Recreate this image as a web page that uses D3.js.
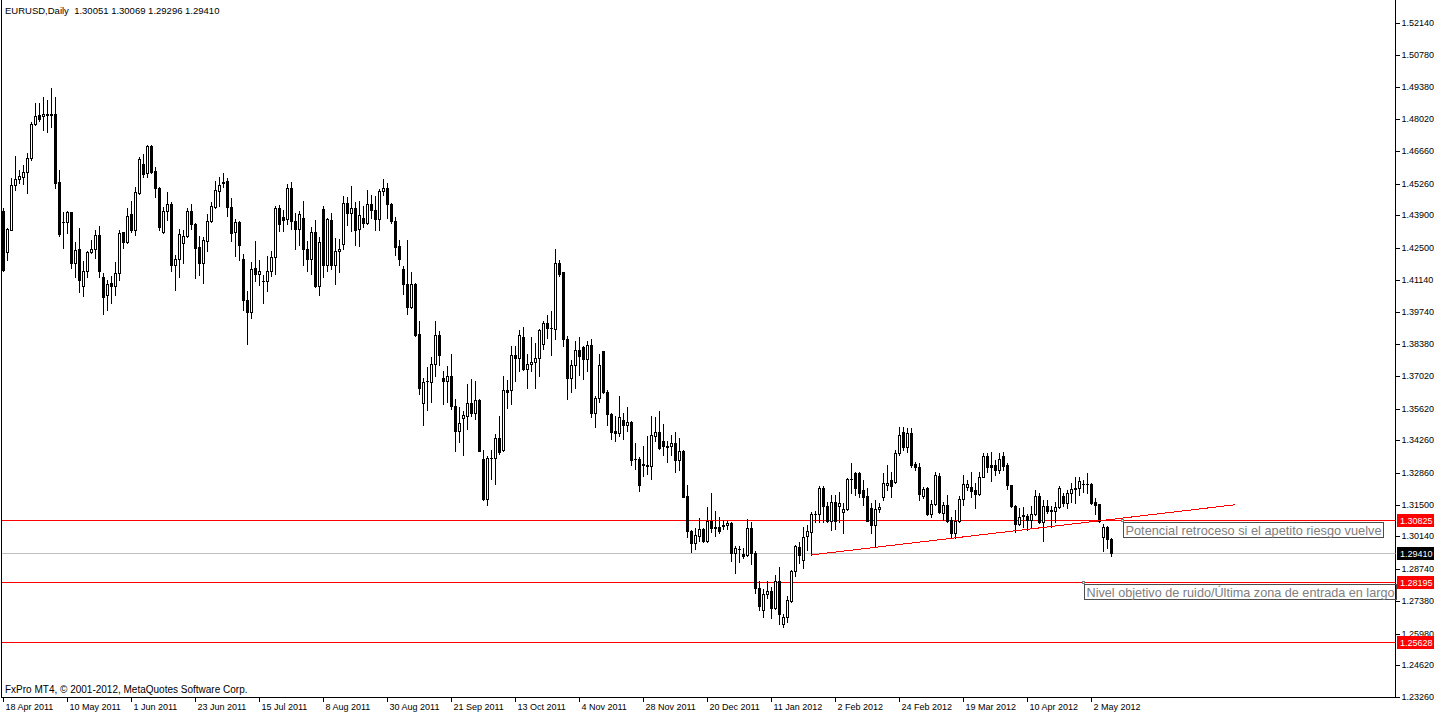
<!DOCTYPE html>
<html>
<head>
<meta charset="utf-8">
<script src="https://cdn.jsdelivr.net/npm/d3@7"></script>
<style>
  body { margin: 0; background: #fff; }
  svg { display: block; }
  text { font-family: "Liberation Sans", Arial, sans-serif; }
</style>
</head>
<body>
<script>
// EURUSD daily, 18 Apr 2011 .. 9 May 2012, prices x 10000
const opens = [14409,14232,14327,14519,14547,14556,14574,14637,14781,14820,14816,14823,14824,14823,14532,14360,14360,14403,14187,14245,
  14085,14153,14232,14245,14306,14125,14049,14099,14085,14142,14317,14277,14396,14325,14484,14610,14570,14687,14580,14506,
  14320,14409,14439,14175,14202,14273,14302,14409,14353,14256,14187,14282,14366,14427,14496,14530,14537,14425,14318,14361,
  14202,14028,13974,14164,14138,14110,14110,14150,14211,14421,14382,14374,14506,14366,14331,14378,14245,14202,14318,14089,
  14416,14175,14371,14175,14235,14267,14442,14402,14421,14331,14378,14356,14438,14414,14374,14496,14506,14438,14366,14259,
  14161,14097,13997,14097,13882,13585,13681,13675,13752,13878,13692,13682,13702,13574,13464,13521,13532,13585,13542,13598,
  13347,13175,13350,13350,13435,13385,13642,13640,13792,13777,13869,13732,13752,13761,13778,13838,13928,13907,13902,14185,
  14146,13860,13695,13748,13814,13825,13774,13834,13542,13607,13810,13632,13540,13467,13457,13511,13490,13504,13345,13347,
  13318,13321,13314,13443,13461,13424,13401,13400,13414,13340,13382,13188,13038,12985,13018,13046,12996,13082,13055,13054,
  13062,13061,13071,12942,12962,12939,12935,13049,12942,12792,12697,12766,12781,12709,12821,12638,12668,12738,12866,12970,
  12914,13017,13034,13111,13110,13222,13145,13081,13162,13145,13120,13132,13261,13287,13287,13214,13188,13137,13064,13132,
  13184,13235,13257,13248,13372,13462,13398,13458,13325,13312,13188,13222,13111,13154,13274,13115,13150,13085,13030,13081,
  13175,13227,13227,13214,13197,13270,13360,13321,13321,13300,13360,13321,13235,13145,13068,13102,13102,13085,13111,13188,
  13077,13145,13124,13124,13141,13188,13158,13201,13222,13222,13240,13240,13240,13162,13154,13013,13055,13005.1];

const highs = [14420,14335,14549,14644,14584,14606,14656,14791,14873,14873,14899,14884,14934,14896,14584,14406,14409,14406,14275,14335,
  14196,14237,14285,14327,14346,14142,14113,14130,14192,14325,14320,14423,14453,14513,14639,14653,14692,14692,14596,14510,
  14425,14492,14445,14220,14330,14327,14420,14439,14356,14302,14299,14396,14449,14535,14552,14573,14549,14464,14374,14364,
  14225,14064,14189,14281,14199,14135,14217,14238,14431,14435,14414,14525,14532,14399,14409,14452,14282,14339,14371,14296,
  14431,14378,14402,14292,14289,14474,14468,14516,14449,14452,14431,14499,14478,14474,14502,14546,14528,14442,14382,14285,
  14174,14285,14147,14100,13938,13692,13742,13782,13938,13895,13724,13745,13797,13602,13568,13550,13667,13688,13681,13602,
  13385,13357,13385,13452,13528,13700,13685,13831,13828,13897,13911,13795,13868,13842,13902,13938,13961,13978,14246,14199,
  14149,13871,13771,13852,13869,13831,13850,13861,13614,13797,13810,13642,13542,13528,13617,13542,13568,13507,13414,13354,
  13402,13445,13531,13524,13552,13495,13421,13450,13461,13435,13385,13235,13042,13052,13092,13052,13138,13202,13121,13099,
  13085,13082,13075,12971,12971,12964,13088,13074,12952,12824,12788,12821,12799,12849,12882,12681,12759,12871,12978,12991,
  13055,13064,13120,13124,13231,13231,13162,13192,13192,13205,13158,13265,13330,13291,13291,13257,13222,13158,13171,13158,
  13287,13321,13291,13385,13484,13484,13479,13479,13334,13330,13227,13227,13171,13291,13287,13162,13192,13098,13128,13188,
  13278,13257,13291,13244,13291,13372,13372,13377,13342,13372,13377,13330,13235,13150,13137,13141,13111,13145,13214,13201,
  13171,13171,13145,13162,13231,13201,13214,13244,13270,13270,13257,13287,13244,13180,13154,13068,13060,13006.9];

const lows = [14153,14199,14325,14499,14530,14523,14487,14627,14777,14796,14756,14749,14770,14506,14302,14249,14313,14166,14127,14063,
  14046,14127,14227,14206,14127,13965,13985,14013,14049,14113,14252,14273,14320,14305,14482,14552,14556,14573,14470,14325,
  14316,14370,14153,14068,14127,14187,14299,14330,14123,14135,14099,14235,14363,14420,14432,14513,14389,14282,14217,14199,
  13985,13838,13950,14110,14092,14014,14064,14128,14138,14321,14321,14352,14332,14247,14264,14178,14150,14140,14082,14049,
  14124,14150,14160,14097,14145,14247,14349,14321,14264,14257,14342,14352,14378,14325,14325,14478,14378,14356,14221,14178,
  14054,13968,13992,13871,13625,13493,13557,13588,13700,13750,13582,13592,13560,13381,13417,13361,13475,13532,13518,13378,
  13170,13147,13260,13240,13367,13378,13564,13581,13682,13721,13728,13652,13724,13652,13702,13817,13864,13792,13861,14132,
  13828,13604,13635,13652,13707,13688,13721,13524,13481,13590,13628,13493,13431,13421,13443,13431,13464,13318,13304,13210,
  13271,13282,13260,13421,13388,13364,13332,13364,13290,13300,13182,13010,12946,12959,12995,12992,12992,13032,13018,13028,
  13046,13045,12909,12859,12904,12921,12931,12896,12771,12699,12668,12752,12664,12704,12639,12628,12649,12735,12846,12901,
  12880,12957,12935,13077,13077,13077,13077,13042,13047,13077,13030,13128,13201,13192,13184,13150,13078,13030,12974,13120,
  13171,13214,13184,13244,13364,13385,13377,13312,13300,13171,13180,13107,13098,13150,13115,13085,13077,13008,13008,13077,
  13150,13214,13184,13137,13192,13268,13291,13252,13278,13287,13300,13218,13141,13034,13064,13055,13042,13055,13107,13072,
  12995,13115,13055,13077,13137,13145,13137,13162,13158,13192,13205,13201,13155,13111,13077,12953,12965,12929.6];

const closes = [14156,14330,14519,14547,14559,14574,14637,14781,14816,14801,14824,14821,14821,14530,14310,14361,14406,14187,14242,14113,
  14153,14232,14245,14306,14153,14042,14096,14085,14142,14313,14277,14389,14325,14489,14632,14567,14687,14577,14506,14342,
  14409,14439,14175,14202,14309,14302,14409,14352,14252,14185,14285,14366,14430,14499,14520,14533,14425,14314,14361,14261,
  14025,13974,14160,14140,14152,14108,14152,14211,14421,14352,14371,14506,14364,14331,14395,14245,14202,14318,14088,14275,
  14175,14374,14175,14238,14247,14442,14402,14421,14328,14392,14356,14438,14411,14374,14495,14506,14438,14364,14254,14202,
  14095,13997,14097,13878,13652,13675,13680,13752,13878,13790,13682,13702,13571,13464,13500,13535,13585,13542,13598,13382,
  13175,13350,13348,13435,13375,13641,13635,13792,13777,13878,13732,13752,13761,13778,13897,13928,13905,13905,14185,14139,
  13860,13695,13748,13814,13785,13774,13834,13542,13607,13748,13631,13538,13460,13457,13525,13490,13504,13343,13344,13235,
  13324,13314,13450,13461,13392,13400,13398,13414,13340,13382,13185,13036,12985,13021,13046,12996,13082,13049,13052,13039,
  13059,13071,12942,12964,12959,12932,13049,12942,12792,12718,12768,12781,12709,12821,12681,12668,12742,12866,12973,12935,
  13013,13038,13111,13110,13222,13145,13081,13162,13081,13158,13132,13261,13259,13222,13201,13184,13081,13064,13132,13141,
  13244,13244,13231,13372,13450,13398,13458,13321,13312,13197,13218,13111,13154,13278,13120,13150,13081,13030,13081,13175,
  13240,13240,13210,13197,13270,13360,13312,13312,13300,13347,13317,13235,13145,13068,13098,13107,13085,13111,13188,13077,
  13145,13124,13128,13141,13222,13158,13201,13218,13218,13252,13239,13239,13158,13150,13081,13055,13004,12941];

const yTicks = [1.52140,1.50780,1.49380,1.48020,1.46660,1.45260,1.43900,1.42500,1.41140,1.39740,1.38380,
  1.37020,1.35620,1.34260,1.32860,1.31500,1.30140,1.28740,1.27380,1.25980,1.24620,1.23260];

const xTickLabels = ["18 Apr 2011","10 May 2011","1 Jun 2011","23 Jun 2011","15 Jul 2011","8 Aug 2011",
  "30 Aug 2011","21 Sep 2011","13 Oct 2011","4 Nov 2011","28 Nov 2011","20 Dec 2011","11 Jan 2012",
  "2 Feb 2012","24 Feb 2012","19 Mar 2012","10 Apr 2012","2 May 2012"];

const hLevels = [1.30825, 1.28195, 1.25628];
const bid = 1.29410;
const trend = [{ bar: 202, price: 1.2935 }, { bar: 308, price: 1.3150 }];
const notes = [
  { text: "Potencial retroceso si el apetito riesgo vuelve", bar: 279.75, price: 1.30825, w: 256 },
  { text: "Nivel objetivo de ruido/Última zona de entrada en largo", bar: 269.75, price: 1.28195, w: 308 }
];

const W = 1434, H = 715;
const axisX = 1395.5, axisY = 697.5;

// trading days (weekdays) of the chart
const dates = d3.timeDay.range(new Date(2011, 3, 18), new Date(2012, 4, 10))
  .filter(d => d.getDay() % 6 !== 0);
const fmt = d3.timeFormat("%-d %b %Y");

const bars = closes.map((c, i) => ({
  i: i,
  o: opens[i] / 1e4, h: highs[i] / 1e4, l: lows[i] / 1e4, c: c / 1e4
}));

const x = d3.scaleLinear()
  .domain([0, dates.length - 1])
  .range([3.5, 3.5 + 4 * (dates.length - 1)]);

const y = d3.scaleLinear()
  .domain([1.2326, 1.5214])
  .range([697, 23]);

const ry = p => Math.round(y(p));

const svg = d3.select("body").append("svg")
  .attr("width", W)
  .attr("height", H);

svg.append("rect").attr("width", W).attr("height", H).attr("fill", "#fff");

// frame
const frame = svg.append("g").attr("stroke", "#000").attr("shape-rendering", "crispEdges");
frame.append("line").attr("x1", 1.5).attr("x2", 1.5).attr("y1", 0).attr("y2", axisY);
frame.append("line").attr("x1", axisX).attr("x2", axisX).attr("y1", 0).attr("y2", axisY);
frame.append("line").attr("x1", 1).attr("x2", axisX).attr("y1", axisY).attr("y2", axisY);

// horizontal levels
svg.append("line")
  .attr("x1", 2).attr("x2", axisX)
  .attr("y1", ry(bid) + 0.5).attr("y2", ry(bid) + 0.5)
  .attr("stroke", "#c0c0c0");

svg.selectAll(".hl")
  .data(hLevels)
  .enter().append("line")
  .attr("class", "hl")
  .attr("x1", 2).attr("x2", axisX)
  .attr("y1", d => ry(d) + 0.5).attr("y2", d => ry(d) + 0.5)
  .attr("stroke", "#ff0000");

// candles
const cg = svg.append("g").attr("shape-rendering", "crispEdges");

cg.selectAll(".wick")
  .data(bars)
  .enter().append("line")
  .attr("class", "wick")
  .attr("x1", d => x(d.i)).attr("x2", d => x(d.i))
  .attr("y1", d => ry(d.h)).attr("y2", d => ry(d.l) + 1)
  .attr("stroke", "#000");

bars.forEach(d => {
  const top = ry(Math.max(d.o, d.c));
  const bot = ry(Math.min(d.o, d.c));
  const cx = x(d.i);
  if (bot - top < 1) {
    cg.append("line")
      .attr("x1", cx - 1.5).attr("x2", cx + 1.5)
      .attr("y1", top + 0.5).attr("y2", top + 0.5)
      .attr("stroke", "#000");
  } else if (d.c > d.o && bot - top >= 2) {
    cg.append("rect")
      .attr("x", cx - 1).attr("y", top + 0.5)
      .attr("width", 2).attr("height", bot - top)
      .attr("fill", "#fff").attr("stroke", "#000");
  } else {
    cg.append("rect")
      .attr("x", cx - 1.5).attr("y", top)
      .attr("width", 3).attr("height", bot - top + 1)
      .attr("fill", "#000");
  }
});

// trend line
svg.append("line")
  .attr("x1", x(trend[0].bar)).attr("y1", y(trend[0].price))
  .attr("x2", x(trend[1].bar)).attr("y2", y(trend[1].price))
  .attr("stroke", "#ff0000")
  .attr("shape-rendering", "crispEdges");

// text objects
notes.forEach(n => {
  const ax = Math.round(x(n.bar)) + 0.5, ay = ry(n.price) + 0.5;
  svg.append("rect")
    .attr("x", ax + 1).attr("y", ay + 2)
    .attr("width", n.w + 4).attr("height", 15)
    .attr("fill", "none").attr("stroke", "#4d4d4d")
    .attr("shape-rendering", "crispEdges");
  svg.append("rect")
    .attr("x", ax - 1).attr("y", ay - 1)
    .attr("width", 2).attr("height", 2)
    .attr("fill", "#fff").attr("stroke", "#808080")
    .attr("shape-rendering", "crispEdges");
  svg.append("text")
    .attr("x", ax + 3).attr("y", ay + 14)
    .attr("font-size", 13)
    .attr("fill", "#808080")
    .attr("textLength", n.w)
    .attr("lengthAdjust", "spacingAndGlyphs")
    .text(n.text);
});

// price axis
const yAxis = svg.append("g")
  .attr("transform", "translate(" + axisX + ",0)")
  .call(d3.axisRight(y).tickValues(yTicks).tickSize(4).tickPadding(2)
    .tickFormat(d3.format(".5f")));
yAxis.select(".domain").remove();
yAxis.selectAll(".tick")
  .attr("transform", d => "translate(0," + (ry(d) + 0.5) + ")");
yAxis.selectAll(".tick line").attr("shape-rendering", "crispEdges");
yAxis.selectAll("text")
  .attr("font-family", "Liberation Sans, Arial, sans-serif")
  .attr("font-size", 9)
  .attr("fill", "#000");

// price tags
const tags = hLevels.map(p => ({ p: p, bg: "#ff0000" })).concat([{ p: bid, bg: "#000" }]);
const tg = svg.selectAll(".tag")
  .data(tags)
  .enter().append("g")
  .attr("class", "tag")
  .attr("transform", d => "translate(" + (axisX + 1.5) + "," + (ry(d.p) - 6) + ")");
tg.append("rect")
  .attr("width", 37).attr("height", 13)
  .attr("fill", d => d.bg);
tg.append("text")
  .attr("x", 3).attr("y", 10)
  .attr("font-size", 9)
  .attr("fill", "#fff")
  .text(d => d3.format(".5f")(d.p));

// time axis
const tickIdx = xTickLabels.map(s => dates.findIndex(d => fmt(d) === s));
const xAxis = svg.append("g")
  .attr("transform", "translate(0," + axisY + ")")
  .call(d3.axisBottom(x).tickValues(tickIdx).tickSize(4).offset(0)
    .tickFormat(i => fmt(dates[i])));
xAxis.select(".domain").remove();
xAxis.selectAll(".tick line").attr("shape-rendering", "crispEdges");
xAxis.selectAll("text")
  .attr("font-family", "Liberation Sans, Arial, sans-serif")
  .attr("font-size", 9)
  .attr("fill", "#000")
  .attr("text-anchor", "start")
  .attr("x", 2)
  .attr("y", 6);

// captions
svg.append("text")
  .attr("x", 5).attr("y", 14)
  .attr("font-size", 9.5)
  .style("white-space", "pre")
  .text("EURUSD,Daily  1.30051 1.30069 1.29296 1.29410");

svg.append("text")
  .attr("x", 5).attr("y", 693)
  .attr("font-size", 10)
  .text("FxPro MT4, © 2001-2012, MetaQuotes Software Corp.");
</script>
</body>
</html>
